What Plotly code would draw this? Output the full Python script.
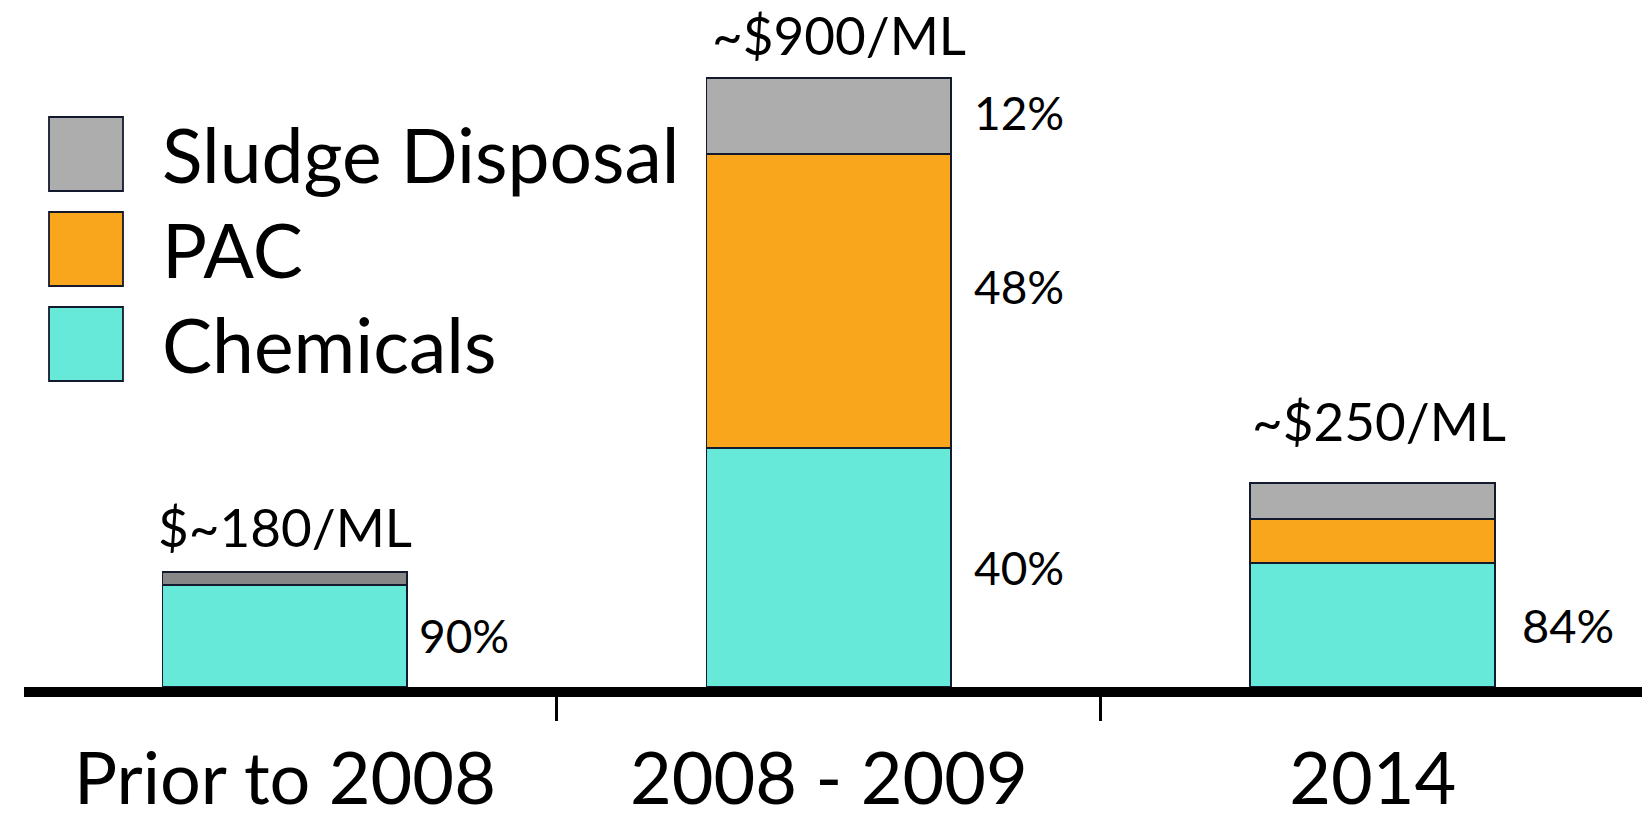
import plotly.graph_objects as go

# ---------------- data ----------------
categories = ["Prior to 2008", "2008 - 2009", "2014"]
series_names = ["Chemicals", "PAC", "Sludge Disposal"]          # bottom -> top
chemicals = [151, 353, 183]
pac = [0, 435, 65]
sludge = [19, 112, 53]
total_labels = ["$~180/ML", "~$900/ML", "~$250/ML"]
pct_labels = [
    ("Prior to 2008", "Chemicals", "90%"),
    ("2008 - 2009", "Sludge Disposal", "12%"),
    ("2008 - 2009", "PAC", "48%"),
    ("2008 - 2009", "Chemicals", "40%"),
    ("2014", "Chemicals", "84%"),
]

# ---------------- styles ----------------
FONT = "Lato"
teal = "#66E9D8"
orange = "#F9A61C"
gray = "#ADADAD"
dark_gray = "#878787"
outline = "#141A2E"
colors = {
    "Chemicals": [teal] * 3,
    "PAC": [orange] * 3,
    "Sludge Disposal": [dark_gray, gray, gray],
}
legend_colors = {"Sludge Disposal": gray, "PAC": orange, "Chemicals": teal}

W_FIG, H_FIG = 1650, 824
L, R, T, B = 24, 8, 0, 137
PW, PH = W_FIG - L - R, H_FIG - T - B
YMAX = PH * 900 / 609

values = {"Chemicals": chemicals, "PAC": pac, "Sludge Disposal": sludge}

fig = go.Figure()
for name in series_names:
    fig.add_trace(go.Bar(
        x=categories, y=values[name], name=name, width=0.45,
        marker=dict(color=colors[name], line=dict(color=outline, width=1.8)),
        showlegend=False, hoverinfo="skip",
    ))

# stacked bases
bases = {}
acc = [0] * len(categories)
for name in series_names:
    bases[name] = list(acc)
    acc = [a + v for a, v in zip(acc, values[name])]
totals = acc

annotations = []
# totals above bars (x given as category index on the category axis)
total_yshift = [45, 44, 63]
total_xshift = [0, 10, 6]
for i, c in enumerate(categories):
    annotations.append(dict(
        x=i, y=totals[i], xref="x", yref="y", text=total_labels[i],
        showarrow=False, xanchor="center", yanchor="middle",
        yshift=total_yshift[i], xshift=total_xshift[i],
        font=dict(family=FONT, size=53, color="black"),
    ))

# percentage labels beside segments
pct_xshift = [132, 143, 143, 143, 147]
pct_yshift = [0, 3, 14, 0, 0]
pct_size = [46, 46, 46, 46, 47]
for k, (c, s, txt) in enumerate(pct_labels):
    i = categories.index(c)
    ymid = bases[s][i] + values[s][i] / 2
    annotations.append(dict(
        x=i, y=ymid, xref="x", yref="y", text=txt, showarrow=False,
        xanchor="left", yanchor="middle", xshift=pct_xshift[k], yshift=pct_yshift[k],
        font=dict(family=FONT, size=pct_size[k], color="black"),
    ))

# legend drawn as large swatches + text
def px_x(p):
    return (p - L) / PW

def px_y(p):
    return (T + PH - p) / PH

shapes = []
legend_order = ["Sludge Disposal", "PAC", "Chemicals"]
sw_left, sw_size, sw_top0, sw_step, txt_left = 49, 74, 117, 95, 160
for j, name in enumerate(legend_order):
    top = sw_top0 + j * sw_step
    shapes.append(dict(
        type="rect", xref="paper", yref="paper",
        x0=px_x(sw_left), x1=px_x(sw_left + sw_size),
        y0=px_y(top + sw_size), y1=px_y(top),
        fillcolor=legend_colors[name], line=dict(color=outline, width=1.8),
    ))
    annotations.append(dict(
        x=px_x(txt_left), y=px_y(top + sw_size / 2), xref="paper", yref="paper",
        text=name, showarrow=False, xanchor="left", yanchor="middle",
        font=dict(family=FONT, size=75, color="black"),
    ))

fig.update_layout(
    width=W_FIG, height=H_FIG,
    margin=dict(l=L, r=R, t=T, b=B, pad=0, autoexpand=False),
    paper_bgcolor="white", plot_bgcolor="white",
    barmode="stack",
    showlegend=False,
    annotations=annotations,
    shapes=shapes,
    xaxis=dict(
        type="category", range=[-0.4797, 2.495], automargin=False,
        showline=True, linecolor="black", linewidth=9.5,
        ticks="outside", tickson="boundaries", ticklen=24, tickwidth=3, tickcolor="black",
        tickfont=dict(family=FONT, size=72, color="black"),
        ticklabelstandoff=21,
        showgrid=False, zeroline=False, fixedrange=True,
    ),
    yaxis=dict(
        range=[0, YMAX], visible=False, showgrid=False, zeroline=False, fixedrange=True,
        automargin=False,
    ),
)

fig.write_html(
    "out.html",
    config={"displayModeBar": False},
    post_script="document.body.style.margin='0';document.body.style.overflow='hidden';",
)
